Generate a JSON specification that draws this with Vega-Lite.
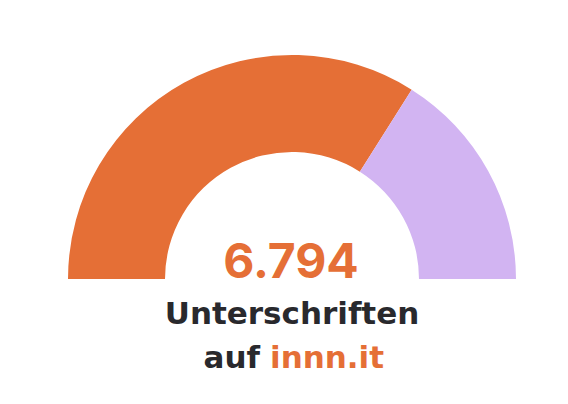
{
  "$schema": "https://vega.github.io/schema/vega-lite/v6.json",
  "width": 584,
  "height": 558,
  "padding": 0,
  "autosize": {"type": "pad"},
  "background": "white",
  "config": {"view": {"stroke": null}},
  "layer": [
    {
      "data": {"values": [
        {"part": "Unterschriften", "value": 6794, "rank": 1},
        {"part": "Offen", "value": 3206, "rank": 2}
      ]},
      "mark": {"type": "arc", "outerRadius": 224, "innerRadius": 127},
      "encoding": {
        "theta": {"field": "value", "type": "quantitative", "stack": true, "scale": {"range": [-1.5708, 1.5708]}},
        "order": {"field": "rank", "type": "ordinal"},
        "color": {"field": "part", "type": "nominal", "legend": null,
          "scale": {"domain": ["Unterschriften", "Offen"], "range": ["#E56F36", "#D2B4F2"]}}
      }
    },
    {
      "data": {"values": [{"label": "6.794"}]},
      "mark": {"type": "text", "font": "Inter", "fontWeight": 700, "fontSize": 48, "color": "#E56F36", "baseline": "alphabetic", "align": "center", "dx": -1, "dy": -1},
      "encoding": {"text": {"field": "label"}}
    },
    {
      "data": {"values": [{"label": "Unterschriften"}]},
      "mark": {"type": "text", "font": "DejaVu Sans", "fontWeight": 700, "fontSize": 31, "color": "#29292D", "baseline": "alphabetic", "align": "center", "dy": 45},
      "encoding": {"text": {"field": "label"}}
    },
    {
      "data": {"values": [{"label": "auf"}]},
      "mark": {"type": "text", "font": "DejaVu Sans", "fontWeight": 700, "fontSize": 31, "color": "#29292D", "baseline": "alphabetic", "align": "right", "dx": -32, "dy": 89},
      "encoding": {"text": {"field": "label"}}
    },
    {
      "data": {"values": [{"label": "innn.it"}]},
      "mark": {"type": "text", "font": "DejaVu Sans", "fontWeight": 700, "fontSize": 31, "color": "#E56F36", "baseline": "alphabetic", "align": "left", "dx": -22, "dy": 89},
      "encoding": {"text": {"field": "label"}}
    }
  ]
}
